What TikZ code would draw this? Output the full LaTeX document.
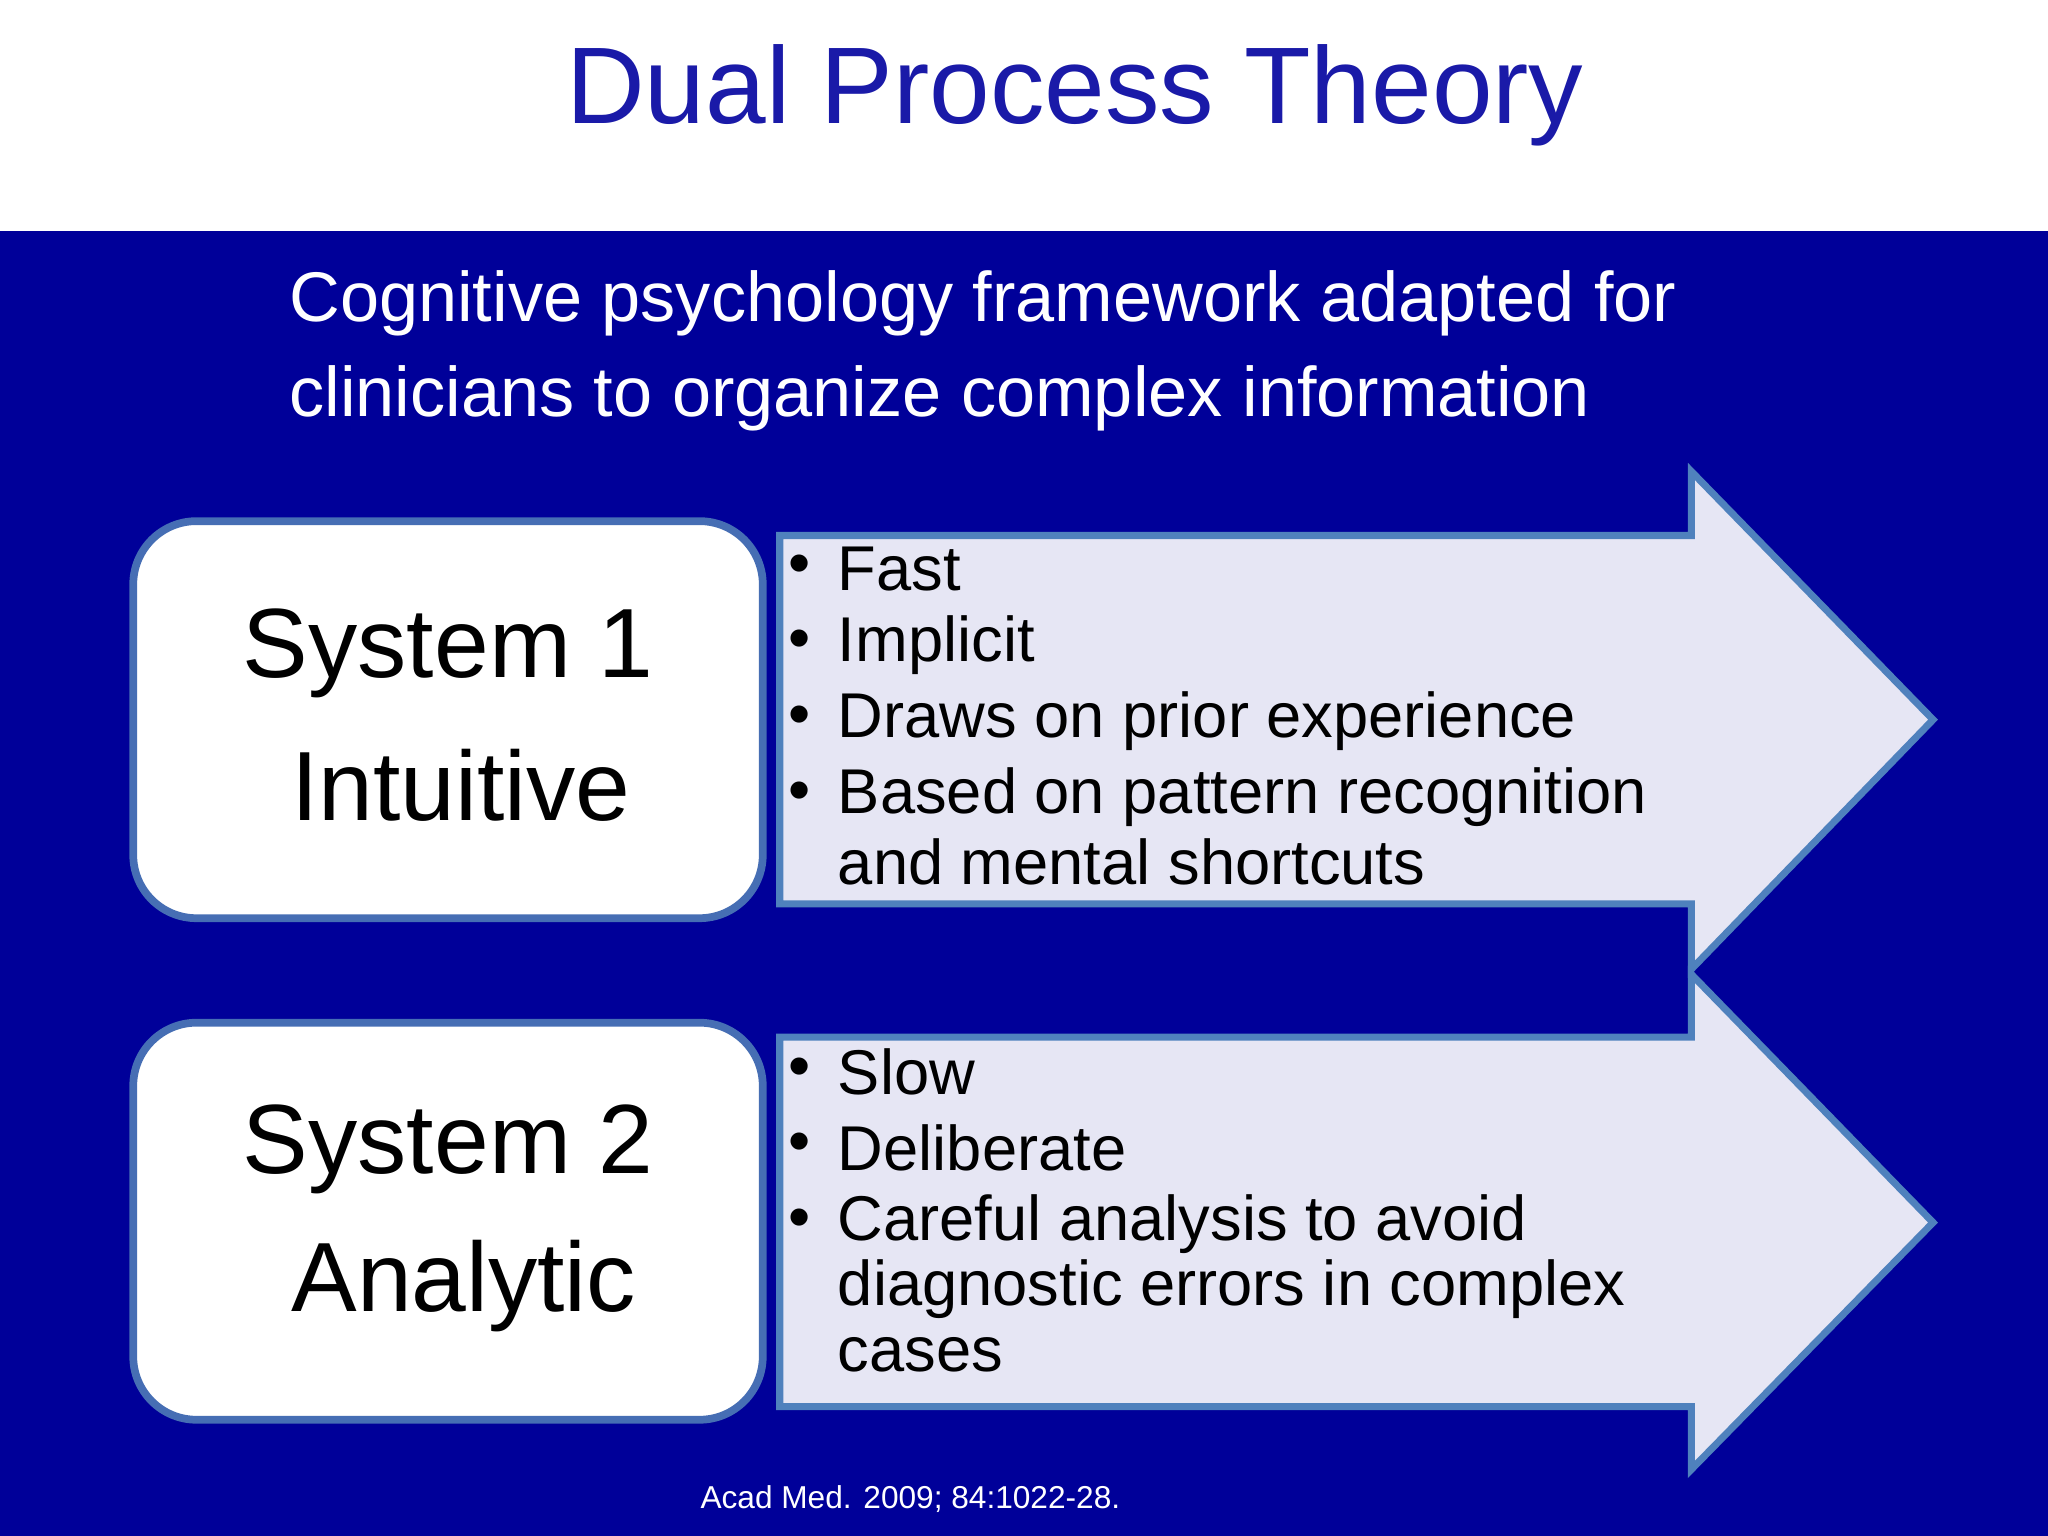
\documentclass[tikz,border=0pt]{standalone}
\usepackage{fontspec}
\setmainfont{Liberation Sans}
\begin{document}
\begin{tikzpicture}[x=0.013061cm,y=-0.013061cm,
  sysbox/.style={draw=bordblue,line width=2.2pt,fill=white,rounded corners=18pt},
  arr/.style={draw=arrblue,line width=2pt,fill=lav},
  bl/.style={anchor=west,text=black,font=\fontsize{18pt}{20pt}\selectfont},
  sys/.style={text=black,font=\fontsize{28pt}{32pt}\selectfont}]
\definecolor{bandblue}{RGB}{0,0,153}
\definecolor{titleblue}{RGB}{26,26,168}
\definecolor{bordblue}{RGB}{70,110,180}
\definecolor{arrblue}{RGB}{79,129,189}
\definecolor{lav}{RGB}{230,230,244}
\useasboundingbox (0,0) rectangle (1568,1176);
\fill[white] (0,0) rectangle (1568,177);
\fill[bandblue] (0,177) rectangle (1568,1176);
\node[text=titleblue,font=\fontsize{31pt}{36pt}\selectfont] (title) at (823,73) {Dual Process Theory};
\node[anchor=west,text=white,font=\fontsize{20pt}{24pt}\selectfont] (sub1) at (212,232) {Cognitive psychology framework adapted for};
\node[anchor=west,text=white,font=\fontsize{20pt}{24pt}\selectfont] (sub2) at (212,305) {clinicians to organize complex information};
\draw[arr] (597,410) -- (1295,410) -- (1295,361) -- (1480,551) -- (1295,742) -- (1295,692) -- (597,692) -- cycle;
\draw[arr] (597,794) -- (1295,794) -- (1295,746) -- (1480,936) -- (1295,1125) -- (1295,1077) -- (597,1077) -- cycle;
\draw[sysbox] (102,399) rectangle (584,703);
\draw[sysbox] (102,783) rectangle (584,1087);
\node[sys] (s1a) at (343,500) {System 1};
\node[sys] (s1b) at (353,601) {Intuitive};
\node[sys] (s2a) at (343,880) {System 2};
\node[sys] (s2b) at (355,985) {Analytic};
\foreach \y/\t in {436/Fast,494/Implicit/automatic,552/Draws on prior experience,610/Based on pattern recognition}{
  \node[bl] at (594,\y) {•}; \node[bl] at (632,\y) {\t};}
\node[bl] at (632,660) {and mental shortcuts};
\foreach \y/\t in {821/Slow,879/Deliberate/rational,937/Careful analysis to avoid}{
  \node[bl] at (594,\y) {•}; \node[bl] at (632,\y) {\t};}
\node[bl] at (632,987) {diagnostic errors in complex};
\node[bl] at (632,1037) {cases};
\node[text=white,font=\fontsize{9pt}{11pt}\selectfont] (ref) at (697,1148) {Acad Med. 2009; 84:1022-28.};
\end{tikzpicture}
\end{document}
